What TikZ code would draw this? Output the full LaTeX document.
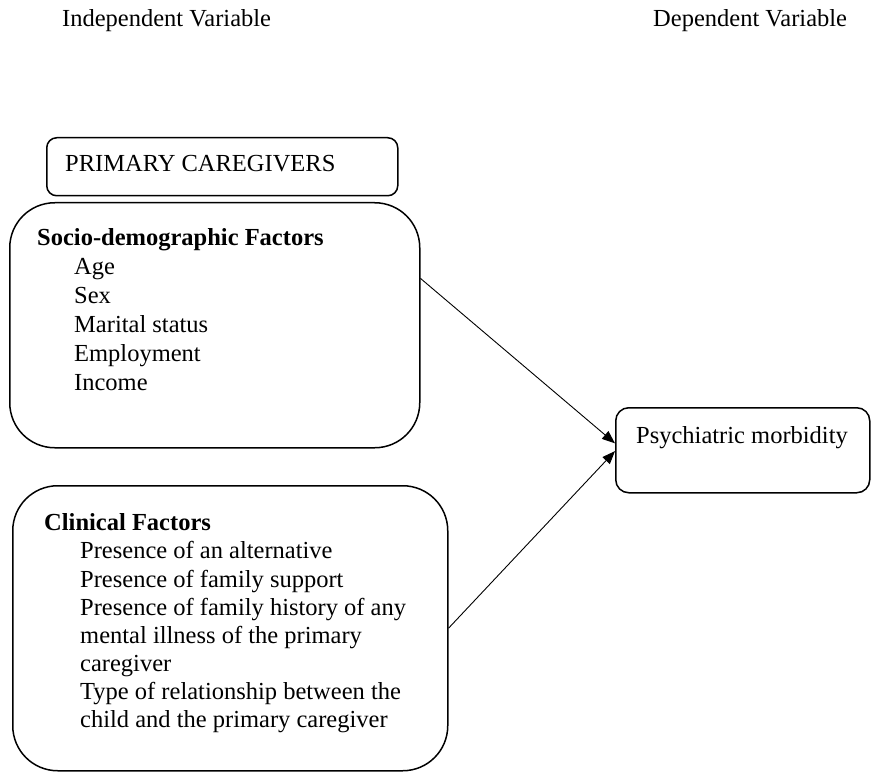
\documentclass[tikz,border=0pt]{standalone}
\usepackage{fontspec}
\setmainfont{Liberation Serif}
\usetikzlibrary{arrows.meta,calc}
\tikzset{
  box/.style={draw, line width=1.5pt, anchor=north west, inner sep=0pt},
  txt/.style={anchor=base west, inner sep=0pt, font=\fontsize{24.5}{28}\selectfont},
  hd/.style={txt, font=\fontsize{24.5}{28}\selectfont\bfseries},
  conn/.style={line width=0.9pt, -{Triangle[length=13pt,width=10pt]}}
}
\begin{document}
\begin{tikzpicture}[x=1pt,y=-1pt]
\useasboundingbox (0,0) rectangle (871,773);
% headings
\node[txt] (indep) at (62,27) {Independent Variable};
\node[txt] (dep) at (653,27) {Dependent Variable};
% primary caregivers
\node[box, rounded corners=10pt, minimum width=351pt, minimum height=58pt] (pc) at (46,137) {};
\node[txt] (pct) at (65,172) {PRIMARY CAREGIVERS};
% socio box
\node[box, rounded corners=45pt, minimum width=410pt, minimum height=245pt] (socio) at (9,202) {};
\node[hd] (s0) at (37,245) {Socio-demographic Factors};
\node[txt] (s1) at (74,274) {Age};
\node[txt] (s2) at (74,303) {Sex};
\node[txt] (s3) at (74,332) {Marital status};
\node[txt] (s4) at (74,361) {Employment};
\node[txt] (s5) at (74,390) {Income};
% clinical box
\node[box, rounded corners=45pt, minimum width=435pt, minimum height=285pt] (clin) at (12,485) {};
\node[hd] (c0) at (44,530) {Clinical Factors};
\node[txt] (c1) at (80,558) {Presence of an alternative};
\node[txt] (c2) at (80,587) {Presence of family support};
\node[txt] (c3) at (80,615) {Presence of family history of any};
\node[txt] (c4) at (80,643) {mental illness of the primary};
\node[txt] (c5) at (80,671) {caregiver};
\node[txt] (c6) at (80,699) {Type of relationship between the};
\node[txt] (c7) at (80,727) {child and the primary caregiver};
% psychiatric morbidity
\node[box, rounded corners=13pt, minimum width=254pt, minimum height=85pt] (psy) at (615,407) {};
\node[txt] (psyt) at (636,443) {Psychiatric morbidity};
% connectors
\draw[conn] ($(socio.north east)!0.31!(socio.south east)$) -- ($(psy.north west)!0.42!(psy.south west)$);
\draw[conn] ($(clin.north east)!0.50!(clin.south east)$) -- ($(psy.north west)!0.51!(psy.south west)$);
\end{tikzpicture}
\end{document}
